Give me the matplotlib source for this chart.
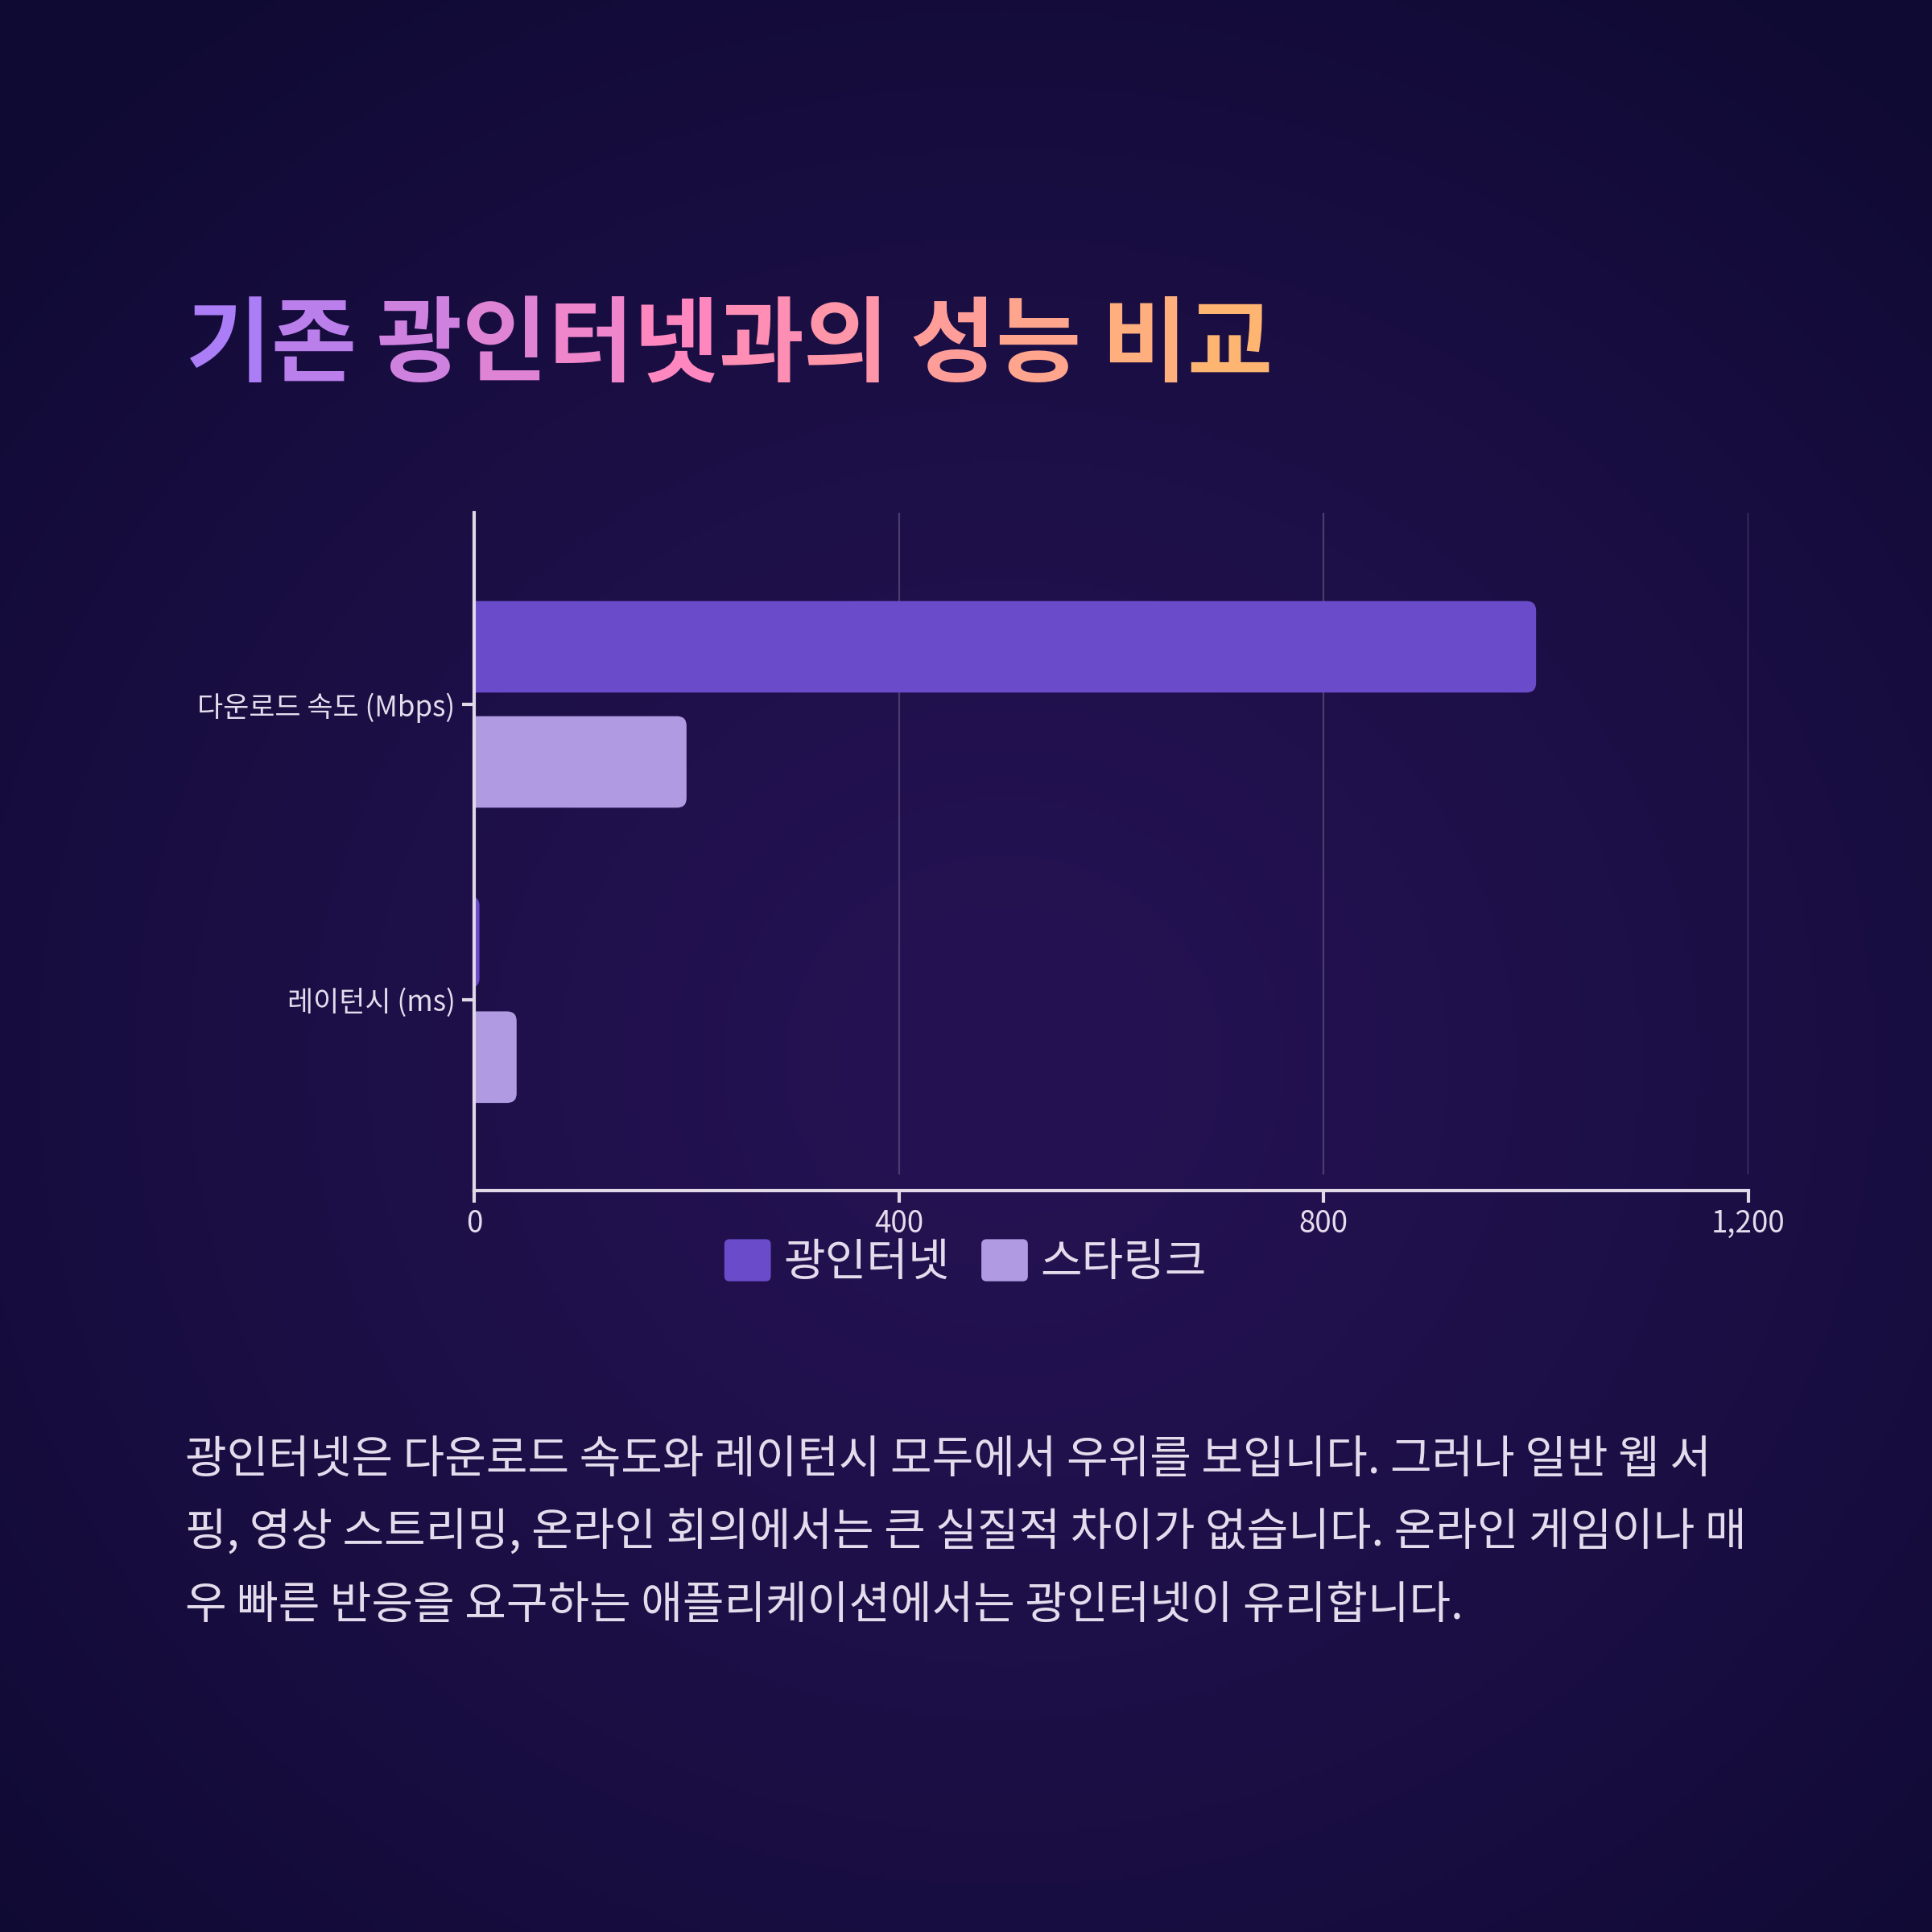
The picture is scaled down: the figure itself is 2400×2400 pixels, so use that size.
import numpy as np
import matplotlib.pyplot as plt
from matplotlib.patches import FancyBboxPatch, Rectangle
from matplotlib.colors import LinearSegmentedColormap, to_rgb
from matplotlib.legend_handler import HandlerPatch
from matplotlib.ticker import StrMethodFormatter

plt.rcParams['font.family'] = ['Noto Sans CJK KR', 'DejaVu Sans']

# data
categories = ['다운로드 속도 (Mbps)', '레이턴시 (ms)']
series_names = ['광인터넷', '스타링크']
fiber = [1000, 5]
starlink = [200, 40]
x_ticks = [0, 400, 800, 1200]

title = '기존 광인터넷과의 성능 비교'
body = ['광인터넷은 다운로드 속도와 레이턴시 모두에서 우위를 보입니다. 그러나 일반 웹 서',
        '핑, 영상 스트리밍, 온라인 회의에서는 큰 실질적 차이가 없습니다. 온라인 게임이나 매',
        '우 빠른 반응을 요구하는 애플리케이션에서는 광인터넷이 유리합니다.']

FIBER_C = '#6a4bc9'
STAR_C = '#b09be2'
TEXT_C = '#e4dcec'
AXIS_C = '#e2d9e8'
GRID_C = '#4a3d6e'

W = 2400  # output size in px
fig = plt.figure(figsize=(12, 12), dpi=200)

# background: soft radial glow
n = 400
yy, xx = np.mgrid[0:1:n * 1j, 0:1:n * 1j]
d = np.sqrt(((xx - 0.52) / 0.72) ** 2 + ((yy - 0.55) / 0.68) ** 2)
t = np.clip(d, 0, 1)[..., None] ** 1.3
c_in = np.array(to_rgb('#251253'))
c_out = np.array(to_rgb('#0f0a33'))
img = c_in * (1 - t) + c_out * t
bg = fig.add_axes([0, 0, 1, 1], zorder=-10)
bg.imshow(img, extent=[0, 1, 0, 1], aspect='auto', origin='upper')
bg.axis('off')

# main chart
ax = fig.add_axes([589 / W, 1 - 1479 / W, (2172 - 589) / W, (1479 - 637) / W])
ax.set_facecolor('none')
y = np.arange(len(categories))
bh = 0.31
off = 0.195
b1 = ax.barh(y - off, fiber, height=bh, color=FIBER_C, label=series_names[0])
b2 = ax.barh(y + off, starlink, height=bh, color=STAR_C, label=series_names[1])
ax.set_xlim(0, 1200)
ax.set_ylim(1.647, -0.649)

# swap bars for rounded ones (left corners hidden behind the axis)
pos = ax.get_position()
ux = 1200 / (pos.width * W)            # data x per px
uy = 2.296 / (pos.height * W)          # data y per px
r = 12 * ux
for bars in (b1, b2):
    for rect in bars:
        x0, y0 = rect.get_x(), rect.get_y()
        w, h = rect.get_width(), rect.get_height()
        p = FancyBboxPatch((x0 - 2 * r, y0), w + 2 * r, h,
                           boxstyle=f'round,pad=0,rounding_size={r}',
                           mutation_aspect=(12 * uy) / r,
                           facecolor=rect.get_facecolor(), edgecolor='none',
                           zorder=2)
        ax.add_patch(p)
        rect.remove()

ax.vlines(x_ticks[1:], ymin=-0.649, ymax=1.593, color=GRID_C, lw=0.8, zorder=1)

for s in ('top', 'right'):
    ax.spines[s].set_visible(False)
for s in ('left', 'bottom'):
    ax.spines[s].set_color(AXIS_C)
    ax.spines[s].set_linewidth(1.5)
    ax.spines[s].set_zorder(3)

ax.set_xticks(x_ticks)
ax.xaxis.set_major_formatter(StrMethodFormatter('{x:,.0f}'))
ax.set_yticks(y)
ax.set_yticklabels(categories)
ax.tick_params(axis='both', colors=AXIS_C, length=5.4, width=1.5, pad=3,
               labelcolor=TEXT_C)
ax.tick_params(axis='x', labelsize=13.2, pad=2.5)
ax.tick_params(axis='y', labelsize=12.6)


# legend with rounded squares
def rounded_handle(legend, orig_handle, xdescent, ydescent, width, height, fontsize):
    return FancyBboxPatch((-xdescent, -ydescent), width, height,
                          boxstyle=f'round,pad=0,rounding_size={height * 0.1}')


handles = [Rectangle((0, 0), 1, 1, color=FIBER_C), Rectangle((0, 0), 1, 1, color=STAR_C)]
fig.legend(handles, series_names, loc='center', bbox_to_anchor=(0.5, 1 - 1569 / W),
           ncol=2, frameon=False, fontsize=20.2, labelcolor=TEXT_C,
           handlelength=0.98, handleheight=0.98, handletextpad=0.3,
           columnspacing=0.73, borderpad=0,
           handler_map={Rectangle: HandlerPatch(patch_func=rounded_handle)})

# gradient title, one colour per character
cmap = LinearSegmentedColormap.from_list('title', [(0, '#a37cfb'), (0.45, '#ff87c0'), (1, '#ffb86c')])
renderer = fig.canvas.get_renderer()
tkw = dict(fontsize=41.5, fontweight='bold')


def ink_width(s):
    tt = fig.text(0, 0, s, **tkw)
    wpx = tt.get_window_extent(renderer).width
    tt.remove()
    return wpx


title_left = 230
full_w = ink_width(title)
for i, ch in enumerate(title):
    if ch == ' ':
        continue
    cw = ink_width(ch)
    xl = title_left + ink_width(title[:i + 1]) - cw
    frac = (xl + cw / 2 - title_left) / full_w
    fig.text(xl / W, 1 - 465 / W, ch, color=cmap(frac), ha='left', va='baseline', **tkw)

# description
for k, line in enumerate(body):
    fig.text(230 / W, 1 - (1814 + 90.5 * k) / W, line, color=TEXT_C, fontsize=20.2,
             ha='left', va='center')

fig.savefig('out.png', dpi=200)
